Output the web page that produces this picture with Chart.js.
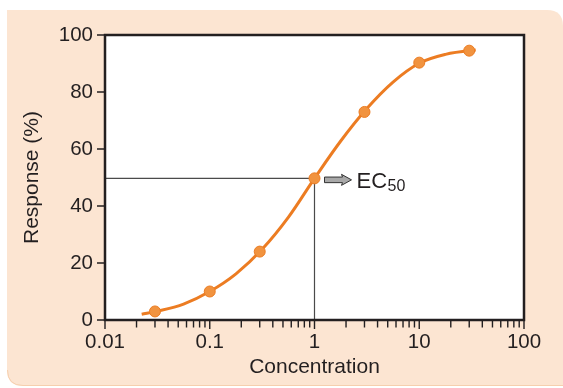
<!DOCTYPE html>
<html>
<head>
<meta charset="utf-8">
<script src="https://cdn.jsdelivr.net/npm/chart.js@4"></script>
<style>
  html, body { margin: 0; padding: 0; background: #ffffff; }
  #wrap { width: 563px; height: 388px; }
</style>
</head>
<body>
<div id="wrap"><canvas id="c" width="563" height="388"></canvas></div>
<script>
// ---- data ----
const concentrations = [0.03, 0.1, 0.3, 1, 3, 10, 30];
const responses = [3, 10, 24, 49.7, 73, 90.3, 94.5];
// points (about every quarter decade)
const curveX = [0.0224, 0.0316, 0.0562, 0.1, 0.178, 0.316, 0.562, 1, 1.78, 3.16, 5.62, 10, 17.8, 31.6, 34.6];
const curveY = [2.0, 3.1, 5.6, 10, 16.2, 24.8, 36, 49.7, 62.8, 74.2, 83.5, 90.1, 93.2, 94.6, 94.7];
const xTickValues = [0.01, 0.1, 1, 10, 100];
const yTickValues = [0, 20, 40, 60, 80, 100];
const ec50 = { x: 1, y: 49.7, label: 'EC', sub: '50' };

const FONT = '"Liberation Sans", Arial, Helvetica, sans-serif';
const INK = '#231f20';

const panelPlugin = {
  id: 'panel',
  beforeDraw(chart) {
    const ctx = chart.ctx;
    ctx.save();
    ctx.fillStyle = '#fce5d2';
    const x0 = 7, y0 = 10, x1 = 563, y1 = 386, r = 16;
    ctx.beginPath();
    ctx.moveTo(x0, y0);
    ctx.lineTo(x1 - r, y0);
    ctx.quadraticCurveTo(x1, y0, x1, y0 + r);
    ctx.lineTo(x1, y1);
    ctx.lineTo(x0 + r, y1);
    ctx.quadraticCurveTo(x0, y1, x0, y1 - r);
    ctx.closePath();
    ctx.fill();
    ctx.strokeStyle = '#f6cfae';
    ctx.lineWidth = 1;
    ctx.beginPath();
    ctx.moveTo(x1, y1 - 0.5);
    ctx.lineTo(x0 + r, y1 - 0.5);
    ctx.quadraticCurveTo(x0 + 0.5, y1 - 0.5, x0 + 0.5, y1 - r);
    ctx.stroke();
    const a = chart.chartArea;
    ctx.fillStyle = '#ffffff';
    ctx.fillRect(a.left, a.top, a.right - a.left, a.bottom - a.top);
    ctx.restore();
  },
  beforeDatasetsDraw(chart) {
    const ctx = chart.ctx;
    const xs = chart.scales.x, ys = chart.scales.y;
    const px = xs.getPixelForValue(ec50.x);
    const py = ys.getPixelForValue(ec50.y);
    ctx.save();
    ctx.strokeStyle = '#4a4a4a';
    ctx.lineWidth = 1.2;
    ctx.beginPath();
    ctx.moveTo(chart.chartArea.left, py);
    ctx.lineTo(px, py);
    ctx.lineTo(px, ys.getPixelForValue(0));
    ctx.stroke();
    ctx.restore();
  },
  afterDraw(chart) {
    const ctx = chart.ctx;
    const a = chart.chartArea;
    const xs = chart.scales.x, ys = chart.scales.y;
    ctx.save();
    // frame
    ctx.strokeStyle = INK;
    ctx.lineWidth = 2.5;
    ctx.strokeRect(a.left, a.top, a.right - a.left, a.bottom - a.top);
    // x ticks (major + minor)
    ctx.lineWidth = 1.4;
    ctx.beginPath();
    for (let e = -2; e < 2; e++) {
      for (let m = 1; m <= 10; m++) {
        const v = m * Math.pow(10, e);
        const p = xs.getPixelForValue(v);
        const len = (m === 1 || m === 10) ? 9 : 7.5;
        ctx.moveTo(p, a.bottom);
        ctx.lineTo(p, a.bottom + len);
      }
    }
    // y ticks
    yTickValues.forEach(v => {
      const p = ys.getPixelForValue(v);
      ctx.moveTo(a.left, p);
      ctx.lineTo(a.left - 8, p);
    });
    ctx.stroke();

    // EC50 arrow + label
    const px = xs.getPixelForValue(ec50.x);
    const py = ys.getPixelForValue(ec50.y);
    const ax = px + 10, ay = py + 1.5;
    ctx.fillStyle = '#a8a8a8';
    ctx.strokeStyle = '#333333';
    ctx.lineWidth = 1;
    ctx.beginPath();
    ctx.moveTo(ax, ay - 2.8);
    ctx.lineTo(ax + 18, ay - 2.8);
    ctx.lineTo(ax + 17, ay - 5.5);
    ctx.lineTo(ax + 27, ay);
    ctx.lineTo(ax + 17, ay + 5.5);
    ctx.lineTo(ax + 18, ay + 2.8);
    ctx.lineTo(ax, ay + 2.8);
    ctx.closePath();
    ctx.fill();
    ctx.stroke();
    ctx.fillStyle = INK;
    ctx.textBaseline = 'alphabetic';
    ctx.textAlign = 'left';
    ctx.font = '22px ' + FONT;
    const tx = ax + 32, ty = ay + 8;
    ctx.fillText(ec50.label, tx, ty);
    const w = ctx.measureText(ec50.label).width;
    ctx.font = '16px ' + FONT;
    ctx.fillText(ec50.sub, tx + w + 0.5, ty + 3.5);
    ctx.restore();
  }
};

new Chart(document.getElementById('c'), {
  type: 'scatter',
  data: {
    datasets: [
      {
        type: 'line',
        data: curveX.map((x, i) => ({ x, y: curveY[i] })),
        borderColor: '#ec7c22',
        borderWidth: 3,
        pointRadius: 0,
        cubicInterpolationMode: 'monotone',
        fill: false,
        order: 2
      },
      {
        data: concentrations.map((x, i) => ({ x, y: responses[i] })),
        backgroundColor: '#f1933f',
        borderColor: '#ec7c22',
        borderWidth: 1,
        pointRadius: 5.5,
        order: 1
      }
    ]
  },
  plugins: [panelPlugin],
  options: {
    responsive: false,
    devicePixelRatio: 1,
    animation: false,
    layout: { padding: { left: 0, top: 35, right: 39, bottom: 0 } },
    plugins: { legend: { display: false }, tooltip: { enabled: false } },
    scales: {
      x: {
        type: 'logarithmic',
        min: 0.01,
        max: 100,
        afterBuildTicks: s => { s.ticks = xTickValues.map(v => ({ value: v })); },
        afterFit: s => { s.height = 68; },
        grid: { display: false, drawTicks: false },
        border: { display: false },
        ticks: {
          autoSkip: false,
          maxRotation: 0,
          padding: 10,
          color: INK,
          font: { family: FONT, size: 20.5 },
          callback: v => String(v)
        },
        title: {
          display: true,
          text: 'Concentration',
          color: INK,
          font: { family: FONT, size: 21 },
          padding: { top: 0, bottom: 8 }
        }
      },
      y: {
        min: 0,
        max: 100,
        afterBuildTicks: s => { s.ticks = yTickValues.map(v => ({ value: v })); },
        afterFit: s => { s.width = 105; },
        grid: { display: false, drawTicks: false },
        border: { display: false },
        ticks: {
          padding: 12,
          color: INK,
          font: { family: FONT, size: 20.5 }
        },
        title: {
          display: true,
          text: 'Response (%)',
          color: INK,
          font: { family: FONT, size: 21 },
          padding: { top: 20, bottom: 0 }
        }
      }
    }
  }
});
</script>
</body>
</html>
